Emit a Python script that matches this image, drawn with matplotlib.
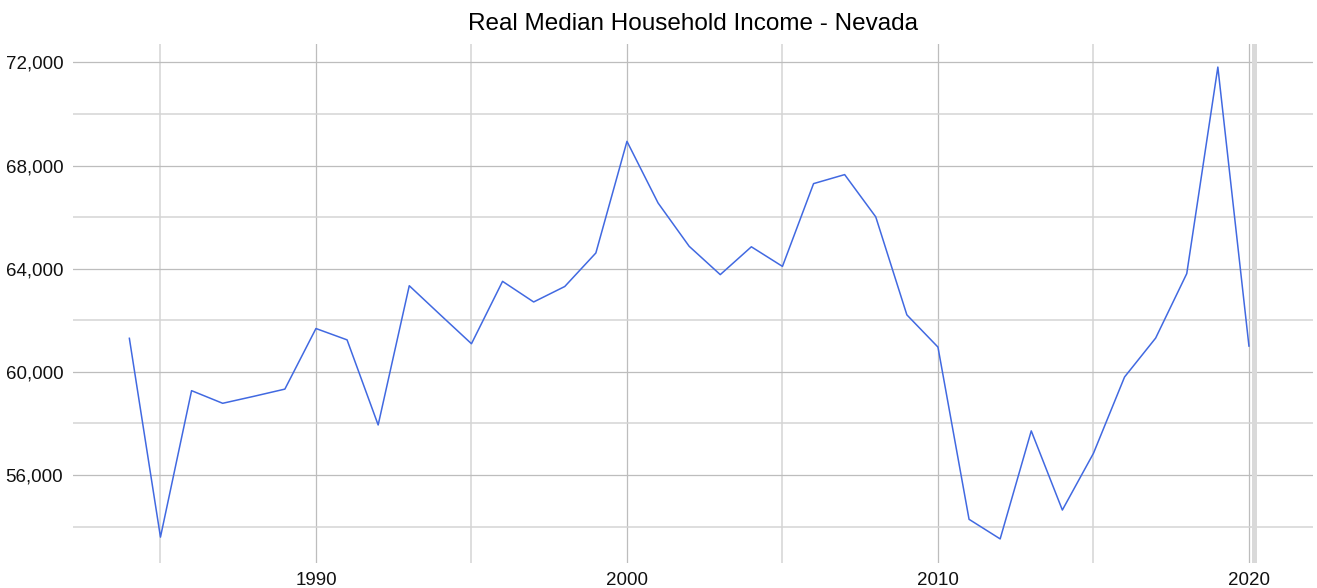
import matplotlib
matplotlib.use('Agg')
import matplotlib.pyplot as plt
from matplotlib.ticker import MultipleLocator, FuncFormatter

# Real median household income, Nevada
years = list(range(1984, 2021))
income = [61300, 53590, 59270, 58780, 59050, 59330, 61680, 61240, 57940, 63340,
          62210, 61090, 63510, 62710, 63310, 64610, 68940, 66550, 64870, 63770,
          64850, 64090, 67300, 67650, 66010, 62210, 60960, 54280, 53520, 57710,
          54640, 56840, 59800, 61310, 63810, 71820, 61000]

# recession shading (Feb - Apr 2020)
rec_start = 2020.085
rec_end = 2020.247

plt.rcParams['font.family'] = ['Liberation Sans', 'DejaVu Sans']

fig = plt.figure(figsize=(13.17, 5.88), dpi=100)
ax = fig.add_axes([73 / 1317, 1 - 562.5 / 588, (1313 - 73) / 1317, (562.5 - 43.5) / 588])

ax.axvspan(rec_start, rec_end, color='#d9d9d9', lw=0, zorder=1)
ax.plot(years, income, color='#4169e1', lw=1.1, zorder=3)

# ggplot-style 5% expansion
xr = rec_end - years[0]
ax.set_xlim(years[0] - 0.05 * xr, rec_end + 0.05 * xr)
yr = max(income) - min(income)
ax.set_ylim(min(income) - 0.05 * yr, max(income) + 0.05 * yr)

ax.xaxis.set_major_locator(MultipleLocator(10))
ax.xaxis.set_minor_locator(MultipleLocator(5))
ax.yaxis.set_major_locator(MultipleLocator(4000))
ax.yaxis.set_minor_locator(MultipleLocator(2000))
ax.yaxis.set_major_formatter(FuncFormatter(lambda v, p: f'{int(v):,}'))

ax.grid(which='major', color='#bdbdbd', lw=0.9, zorder=0)
ax.grid(which='minor', color='#d4d4d4', lw=1.1, zorder=0)
ax.set_axisbelow(True)

for s in ax.spines.values():
    s.set_visible(False)
ax.tick_params(which='both', length=0, labelsize=13.5, labelcolor='#111111')
ax.tick_params(axis='y', pad=7)
ax.tick_params(axis='x', pad=7)

ax.set_title('Real Median Household Income - Nevada', fontsize=17.5, pad=10, color='#000000')

fig.savefig('out.png', dpi=100)
